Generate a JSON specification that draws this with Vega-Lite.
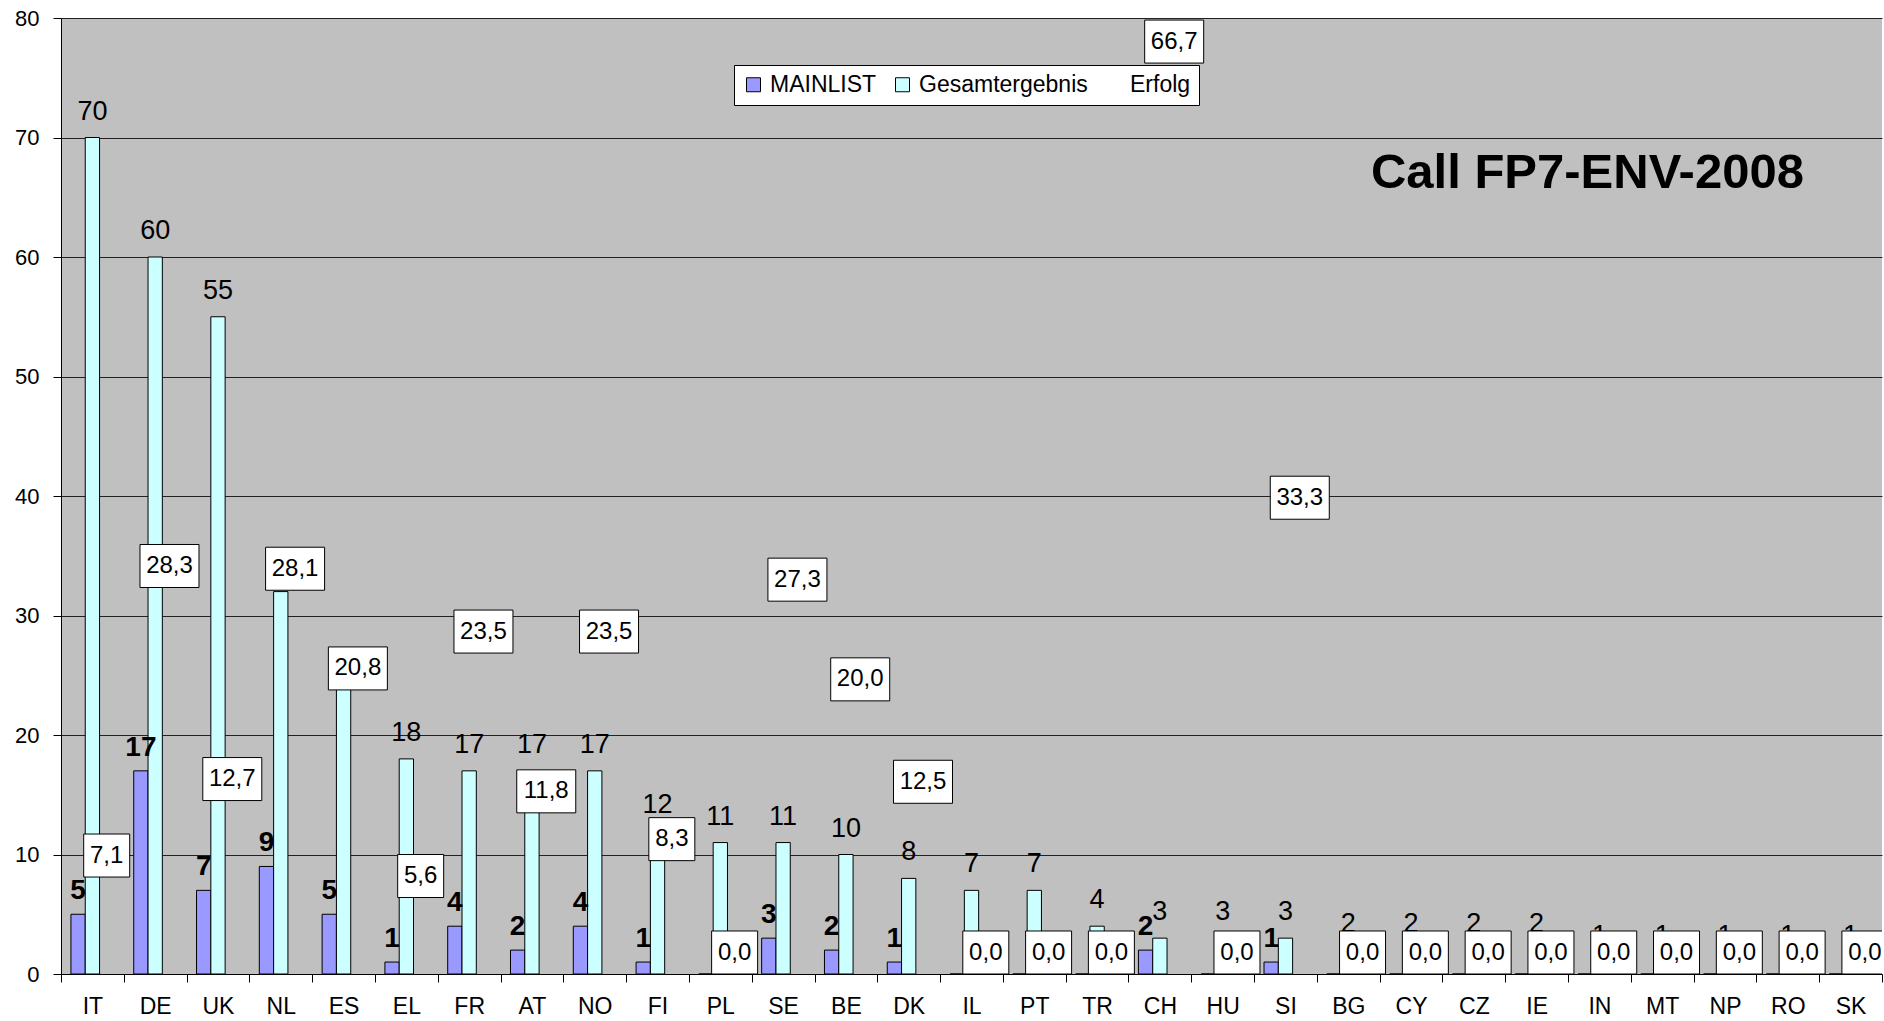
{
  "$schema": "https://vega.github.io/schema/vega-lite/v6.json",
  "autosize": {"type": "fit", "contains": "padding"},
  "width": 1884,
  "height": 1021,
  "padding": {"left": 14, "top": 7, "right": 1, "bottom": 3},
  "background": "white",
  "config": {
    "locale": {"number": {"decimal": ",", "thousands": ".", "grouping": [3], "currency": ["", " €"]}},
    "view": {"fill": "#C0C0C0", "stroke": null},
    "font": "Liberation Sans",
    "axis": {"title": null, "labelFont": "Liberation Sans", "labelColor": "black", "domainColor": "black", "tickColor": "black", "tickSize": 8, "gridColor": "#222222", "gridWidth": 1, "domainWidth": 1, "tickWidth": 1},
    "axisX": {"labelFontSize": 23, "labelPadding": 13, "tickBand": "extent", "labelAngle": 0, "grid": false},
    "axisY": {"labelFontSize": 22, "labelPadding": 14, "grid": true}
  },
  "data": {"values": [
    {"Land": "IT", "MAINLIST": 5, "Gesamtergebnis": 70, "Erfolg": 7.1},
    {"Land": "DE", "MAINLIST": 17, "Gesamtergebnis": 60, "Erfolg": 28.3},
    {"Land": "UK", "MAINLIST": 7, "Gesamtergebnis": 55, "Erfolg": 12.7},
    {"Land": "NL", "MAINLIST": 9, "Gesamtergebnis": 32, "Erfolg": 28.1},
    {"Land": "ES", "MAINLIST": 5, "Gesamtergebnis": 24, "Erfolg": 20.8},
    {"Land": "EL", "MAINLIST": 1, "Gesamtergebnis": 18, "Erfolg": 5.6},
    {"Land": "FR", "MAINLIST": 4, "Gesamtergebnis": 17, "Erfolg": 23.5},
    {"Land": "AT", "MAINLIST": 2, "Gesamtergebnis": 17, "Erfolg": 11.8},
    {"Land": "NO", "MAINLIST": 4, "Gesamtergebnis": 17, "Erfolg": 23.5},
    {"Land": "FI", "MAINLIST": 1, "Gesamtergebnis": 12, "Erfolg": 8.3},
    {"Land": "PL", "MAINLIST": 0, "Gesamtergebnis": 11, "Erfolg": 0.0},
    {"Land": "SE", "MAINLIST": 3, "Gesamtergebnis": 11, "Erfolg": 27.3},
    {"Land": "BE", "MAINLIST": 2, "Gesamtergebnis": 10, "Erfolg": 20.0},
    {"Land": "DK", "MAINLIST": 1, "Gesamtergebnis": 8, "Erfolg": 12.5},
    {"Land": "IL", "MAINLIST": 0, "Gesamtergebnis": 7, "Erfolg": 0.0},
    {"Land": "PT", "MAINLIST": 0, "Gesamtergebnis": 7, "Erfolg": 0.0},
    {"Land": "TR", "MAINLIST": 0, "Gesamtergebnis": 4, "Erfolg": 0.0},
    {"Land": "CH", "MAINLIST": 2, "Gesamtergebnis": 3, "Erfolg": 66.7},
    {"Land": "HU", "MAINLIST": 0, "Gesamtergebnis": 3, "Erfolg": 0.0},
    {"Land": "SI", "MAINLIST": 1, "Gesamtergebnis": 3, "Erfolg": 33.3},
    {"Land": "BG", "MAINLIST": 0, "Gesamtergebnis": 2, "Erfolg": 0.0},
    {"Land": "CY", "MAINLIST": 0, "Gesamtergebnis": 2, "Erfolg": 0.0},
    {"Land": "CZ", "MAINLIST": 0, "Gesamtergebnis": 2, "Erfolg": 0.0},
    {"Land": "IE", "MAINLIST": 0, "Gesamtergebnis": 2, "Erfolg": 0.0},
    {"Land": "IN", "MAINLIST": 0, "Gesamtergebnis": 1, "Erfolg": 0.0},
    {"Land": "MT", "MAINLIST": 0, "Gesamtergebnis": 1, "Erfolg": 0.0},
    {"Land": "NP", "MAINLIST": 0, "Gesamtergebnis": 1, "Erfolg": 0.0},
    {"Land": "RO", "MAINLIST": 0, "Gesamtergebnis": 1, "Erfolg": 0.0},
    {"Land": "SK", "MAINLIST": 0, "Gesamtergebnis": 1, "Erfolg": 0.0}
  ]},
  "layer": [
    {
      "transform": [
        {"fold": ["MAINLIST", "Gesamtergebnis", "Erfolg"], "as": ["series", "value"]},
        {"filter": "datum.series !== 'Erfolg'"}
      ],
      "mark": {"type": "bar", "stroke": "black", "strokeWidth": 1},
      "encoding": {
        "x": {"field": "Land", "type": "nominal", "scale": {"domain": ["IT","DE","UK","NL","ES","EL","FR","AT","NO","FI","PL","SE","BE","DK","IL","PT","TR","CH","HU","SI","BG","CY","CZ","IE","IN","MT","NP","RO","SK"], "paddingInner": 0, "paddingOuter": 0}},
        "xOffset": {"field": "series", "type": "nominal", "scale": {"domain": ["MAINLIST", "Gesamtergebnis", "Erfolg"], "paddingInner": 0, "paddingOuter": 0.695}},
        "y": {"field": "value", "type": "quantitative", "scale": {"domain": [0, 80], "nice": false, "zero": true}, "axis": {"values": [0, 10, 20, 30, 40, 50, 60, 70, 80]}},
        "fill": {
          "field": "series", "type": "nominal",
          "scale": {"domain": ["MAINLIST", "Gesamtergebnis", "Erfolg"], "range": ["#9999FF", "#CCFFFF", "transparent"]},
          "legend": {
            "orient": "none", "legendX": 673, "legendY": 47, "direction": "horizontal", "title": null,
            "fillColor": "white", "strokeColor": "black", "padding": 8,
            "symbolType": "square", "symbolSize": 196, "symbolStrokeColor": "black", "symbolStrokeWidth": 1, "symbolOpacity": 1,
            "labelFontSize": 23, "labelFont": "Liberation Sans", "labelColor": "black", "labelLimit": 400,
            "columnPadding": 14, "labelOffset": 5,
            "encode": {"symbols": {"update": {"stroke": {"signal": "datum.value === 'Erfolg' ? 'transparent' : 'black'"}}}}
          }
        }
      }
    },
    {
      "transform": [
        {"fold": ["MAINLIST", "Gesamtergebnis", "Erfolg"], "as": ["series", "value"]},
        {"filter": "datum.series === 'Gesamtergebnis'"}
      ],
      "mark": {"type": "text", "fontSize": 27, "font": "Liberation Sans", "color": "black", "baseline": "alphabetic", "dy": -18},
      "encoding": {
        "x": {"field": "Land", "type": "nominal"},
        "xOffset": {"field": "series", "type": "nominal"},
        "y": {"field": "value", "type": "quantitative", "scale": {"domain": [0, 80], "nice": false}, "axis": null},
        "text": {"field": "value", "type": "quantitative", "format": "d"}
      }
    },
    {
      "transform": [
        {"fold": ["MAINLIST", "Gesamtergebnis", "Erfolg"], "as": ["series", "value"]},
        {"filter": "datum.series === 'MAINLIST' && datum.value > 0"}
      ],
      "mark": {"type": "text", "fontSize": 28, "fontWeight": "bold", "font": "Liberation Sans", "color": "black", "baseline": "alphabetic", "dy": -15},
      "encoding": {
        "x": {"field": "Land", "type": "nominal"},
        "xOffset": {"field": "series", "type": "nominal"},
        "y": {"field": "value", "type": "quantitative", "scale": {"domain": [0, 80], "nice": false}, "axis": null},
        "text": {"field": "value", "type": "quantitative", "format": "d"}
      }
    },
    {
      "transform": [
        {"fold": ["MAINLIST", "Gesamtergebnis", "Erfolg"], "as": ["series", "value"]},
        {"filter": "datum.series === 'Erfolg'"}
      ],
      "mark": {"type": "point", "filled": true, "fill": "white", "stroke": "black", "strokeWidth": 1, "opacity": 1, "fillOpacity": 1, "yOffset": -21.5, "clip": true},
      "encoding": {
        "x": {"field": "Land", "type": "nominal"},
        "xOffset": {"field": "series", "type": "nominal"},
        "y": {"field": "value", "type": "quantitative", "scale": {"domain": [0, 70], "nice": false, "clamp": true}, "axis": null},
        "shape": {"condition": {"test": "datum.value >= 10", "value": "M-1,-0.729H1V0.729H-1Z"}, "value": "M-1,-0.935H1V0.935H-1Z"},
        "size": {"condition": {"test": "datum.value >= 10", "value": 3481}, "value": 2116}
      }
    },
    {
      "transform": [
        {"fold": ["MAINLIST", "Gesamtergebnis", "Erfolg"], "as": ["series", "value"]},
        {"filter": "datum.series === 'Erfolg'"}
      ],
      "mark": {"type": "text", "fontSize": 24, "font": "Liberation Sans", "color": "black", "baseline": "middle", "align": "center", "yOffset": -21.5, "clip": true},
      "encoding": {
        "x": {"field": "Land", "type": "nominal"},
        "xOffset": {"field": "series", "type": "nominal"},
        "y": {"field": "value", "type": "quantitative", "scale": {"domain": [0, 70], "nice": false, "clamp": true}, "axis": null},
        "text": {"field": "value", "type": "quantitative", "format": ".1f"}
      }
    },
    {
      "data": {"values": [{}]},
      "mark": {"type": "text", "fontSize": 49, "fontWeight": "bold", "font": "Liberation Sans", "color": "black", "baseline": "alphabetic", "align": "center", "dx": -12},
      "encoding": {
        "x": {"datum": "IN", "type": "nominal"},
        "y": {"datum": 65.8, "type": "quantitative", "scale": {"domain": [0, 80], "nice": false}, "axis": null},
        "text": {"value": "Call FP7-ENV-2008"}
      }
    }
  ],
  "resolve": {"scale": {"y": "independent"}}
}
